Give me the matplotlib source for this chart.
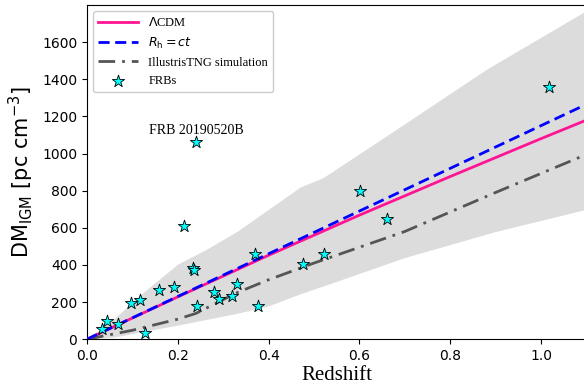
import matplotlib.pyplot as plt
import numpy as np

# === Data ===
# FRB points (redshift, DM_IGM)
frb_z = [0.033, 0.045, 0.069, 0.097, 0.117, 0.128, 0.159, 0.191, 0.214,
         0.233, 0.235, 0.243, 0.279, 0.290, 0.320, 0.330, 0.369, 0.377,
         0.475, 0.523, 0.601, 0.661, 1.018, 0.241]
frb_dm = [54, 97, 81, 196, 211, 36, 263, 279, 607,
          382, 373, 177, 254, 218, 232, 299, 459, 178,
          405, 458, 798, 647, 1358, 1061]

# model curves
lcdm_z = [0, 0.2, 0.4, 0.6, 0.8, 1.0, 1.1]
lcdm_dm = [0, 228, 452, 668, 876, 1080, 1180]
rh_z = [0, 1.1]
rh_dm = [0, 1265]
tng_z = [0, 0.1, 0.2, 0.24, 0.33, 0.4, 0.5, 0.7, 0.9, 1.1]
tng_dm = [0, 48, 108, 139, 250, 320, 410, 580, 790, 995]

# IllustrisTNG scatter band
band_up_z = [0, 0.06, 0.13, 0.2, 0.26, 0.33, 0.4, 0.47, 0.52, 0.67, 0.88, 1.1]
band_up_dm = [0, 112, 265, 405, 480, 580, 700, 820, 870, 1112, 1454, 1770]
band_lo_z = [0, 0.06, 0.2, 0.33, 0.4, 0.47, 0.55, 0.7, 0.9, 1.1]
band_lo_dm = [0, 12, 76, 139, 180, 245, 312, 440, 580, 700]

# === Setup ===
fig = plt.figure(figsize=(5.84, 3.85), dpi=100)
ax = fig.add_axes([0.149, 0.119, 0.855, 0.868])

zz = np.linspace(0, 1.1, 300)
up = np.interp(zz, band_up_z, band_up_dm)
lo = np.interp(zz, band_lo_z, band_lo_dm)
ax.fill_between(zz, lo, up, color="#dcdcdc", lw=0, zorder=1)

ax.plot(lcdm_z, lcdm_dm, color="#ff1493", lw=2, label=r"$\Lambda$CDM", zorder=3)
ax.plot(rh_z, rh_dm, color="blue", lw=2, ls=(0, (4, 2)), label=r"$R_\mathrm{h}=ct$", zorder=3)
ax.plot(tng_z, tng_dm, color="#555555", lw=2, ls=(0, (6, 2.5, 1, 2.5)),
        label="IllustrisTNG simulation", zorder=2)
ax.scatter(frb_z, frb_dm, marker="*", s=85, color="cyan", edgecolor="black",
           linewidth=0.6, label="FRBs", zorder=4)

ax.text(0.241, 1090, "FRB 20190520B", family="Liberation Serif", fontsize=10,
        ha="center", va="bottom")

# === Formatting ===
ax.set_xlim(0, 1.1)
ax.set_ylim(0, 1800)
ax.set_xticks([0, 0.2, 0.4, 0.6, 0.8, 1.0])
ax.set_yticks(range(0, 1601, 200))
ax.tick_params(labelsize=10)
ax.set_xlabel("Redshift", family="Liberation Serif", fontsize=15, labelpad=2)
ax.set_ylabel(r"DM$_{\rm IGM}$ [pc cm$^{-3}$]", fontsize=15)

ax.legend(loc="upper left", prop={"family": "Liberation Serif", "size": 9},
          framealpha=1, handlelength=3.2)

fig.savefig("out.png", dpi=100)
